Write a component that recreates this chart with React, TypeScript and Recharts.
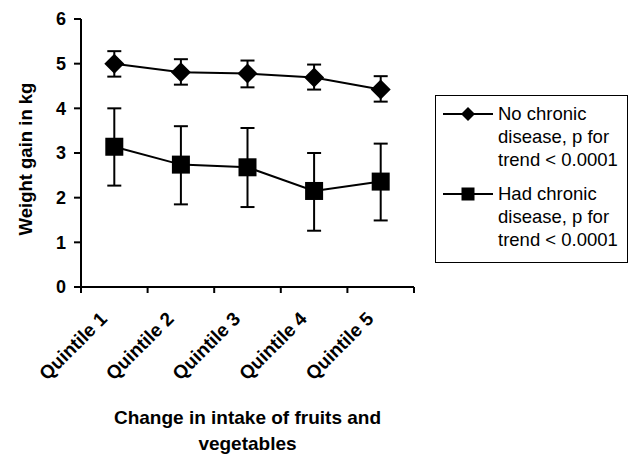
import React from "react";
import { LineChart, Line, XAxis, YAxis, ErrorBar } from "recharts";

const quintiles = ["Quintile 1", "Quintile 2", "Quintile 3", "Quintile 4", "Quintile 5"];
const quintileIndex = [1, 2, 3, 4, 5];

// No chronic disease: mean and 95% CI
const noChronic = [5.0, 4.81, 4.78, 4.69, 4.42];
const noChronicLow = [4.71, 4.53, 4.47, 4.42, 4.15];
const noChronicHigh = [5.28, 5.1, 5.07, 4.98, 4.72];

// Had chronic disease: mean and 95% CI
const hadChronic = [3.14, 2.74, 2.68, 2.15, 2.36];
const hadChronicLow = [2.27, 1.85, 1.79, 1.26, 1.49];
const hadChronicHigh = [4.0, 3.6, 3.56, 3.0, 3.21];

const yTicks = [0, 1, 2, 3, 4, 5, 6];
const xTicks = [0.5, 1, 1.5, 2, 2.5, 3, 3.5, 4, 4.5, 5, 5.5];

const legendItems = [
  { label: ["No chronic", "disease, p for", "trend < 0.0001"], marker: "diamond" },
  { label: ["Had chronic", "disease, p for", "trend < 0.0001"], marker: "square" },
];

const data = quintileIndex.map((q, i) => ({
  q,
  none: noChronic[i],
  noneErr: [noChronic[i] - noChronicLow[i], noChronicHigh[i] - noChronic[i]],
  had: hadChronic[i],
  hadErr: [hadChronic[i] - hadChronicLow[i], hadChronicHigh[i] - hadChronic[i]],
}));

const FONT = "Arial, 'Liberation Sans', sans-serif";

const Diamond = ({ cx, cy, size = 10 }: any) => (
  <polygon
    points={`${cx},${cy - size} ${cx + size},${cy} ${cx},${cy + size} ${cx - size},${cy}`}
    fill="#000"
  />
);

const Square = ({ cx, cy, size = 18 }: any) => (
  <rect x={cx - size / 2} y={cy - size / 2} width={size} height={size} fill="#000" />
);

// ticks at the half steps are the category boundaries, whole steps carry the labels
const QuintileTick = ({ x, y, payload }: any) => {
  const v = payload.value;
  if (!Number.isInteger(v)) {
    return <line x1={x} y1={y} x2={x} y2={y + 6} stroke="#000" strokeWidth={2} />;
  }
  const tx = x - 6;
  const ty = y + 33;
  return (
    <text
      x={tx}
      y={ty}
      transform={`rotate(-45 ${tx} ${ty})`}
      textAnchor="end"
      fontFamily={FONT}
      fontWeight="bold"
      fontSize={19}
      fill="#000"
    >
      {quintiles[v - 1]}
    </text>
  );
};

const XTitle = ({ viewBox }: any) => {
  const cx = viewBox.x + viewBox.width / 2;
  return (
    <text textAnchor="middle" fontFamily={FONT} fontWeight="bold" fontSize={19} fill="#000">
      <tspan x={cx} y={viewBox.y + 137}>Change in intake of fruits and</tspan>
      <tspan x={cx} y={viewBox.y + 163}>vegetables</tspan>
    </text>
  );
};

const YTitle = ({ viewBox }: any) => {
  const cx = viewBox.x + 11;
  const cy = viewBox.y + viewBox.height / 2 + 6;
  return (
    <text
      x={cx}
      y={cy}
      transform={`rotate(-90 ${cx} ${cy})`}
      textAnchor="middle"
      fontFamily={FONT}
      fontWeight="bold"
      fontSize={18.5}
      fill="#000"
    >
      Weight gain in kg
    </text>
  );
};

function LegendBox() {
  return (
    <div
      style={{
        position: "absolute",
        left: 435,
        top: 95,
        width: 193,
        height: 168,
        border: "1px solid #000",
        fontFamily: FONT,
        fontSize: 18.5,
        lineHeight: "23px",
        color: "#000",
        paddingTop: 6,
        boxSizing: "border-box",
      }}
    >
      {legendItems.map((it, i) => (
        <div key={i} style={{ display: "flex", marginBottom: 11 }}>
          <svg width={62} height={23} style={{ flex: "none" }}>
            <line x1={7} y1={12} x2={57} y2={12} stroke="#000" strokeWidth={2} />
            {it.marker === "diamond" ? (
              <Diamond cx={32} cy={12} size={7} />
            ) : (
              <Square cx={32} cy={12} size={13} />
            )}
          </svg>
          <div>
            {it.label.map((l) => (
              <div key={l}>{l}</div>
            ))}
          </div>
        </div>
      ))}
    </div>
  );
}

export default function App() {
  return (
    <div style={{ position: "absolute", left: 0, top: 0, width: 631, height: 454, background: "#fff" }}>
      <LineChart
        width={631}
        height={454}
        data={data}
        margin={{ top: 19, right: 217, left: 21, bottom: 107 }}
      >
        <XAxis
          dataKey="q"
          type="number"
          domain={[0.5, 5.5]}
          ticks={xTicks}
          interval={0}
          allowDecimals
          height={60}
          axisLine={{ stroke: "#000", strokeWidth: 2 }}
          tickLine={false}
          tickSize={0}
          tickMargin={0}
          tick={QuintileTick}
          label={{ content: XTitle }}
        />
        <YAxis
          domain={[0, 6]}
          ticks={yTicks}
          interval={0}
          width={60}
          axisLine={{ stroke: "#000", strokeWidth: 2 }}
          tickLine={{ stroke: "#000", strokeWidth: 2 }}
          tickSize={7}
          tickMargin={8}
          tick={{ fill: "#000", fontSize: 18, fontWeight: "bold", fontFamily: FONT }}
          label={{ content: YTitle }}
        />
        <Line
          dataKey="none"
          stroke="#000"
          strokeWidth={2}
          dot={<Diamond />}
          activeDot={false}
          isAnimationActive={false}
        >
          <ErrorBar dataKey="noneErr" direction="y" width={7} stroke="#000" strokeWidth={2} />
        </Line>
        <Line
          dataKey="had"
          stroke="#000"
          strokeWidth={2}
          dot={<Square />}
          activeDot={false}
          isAnimationActive={false}
        >
          <ErrorBar dataKey="hadErr" direction="y" width={7} stroke="#000" strokeWidth={2} />
        </Line>
      </LineChart>
      <LegendBox />
    </div>
  );
}
